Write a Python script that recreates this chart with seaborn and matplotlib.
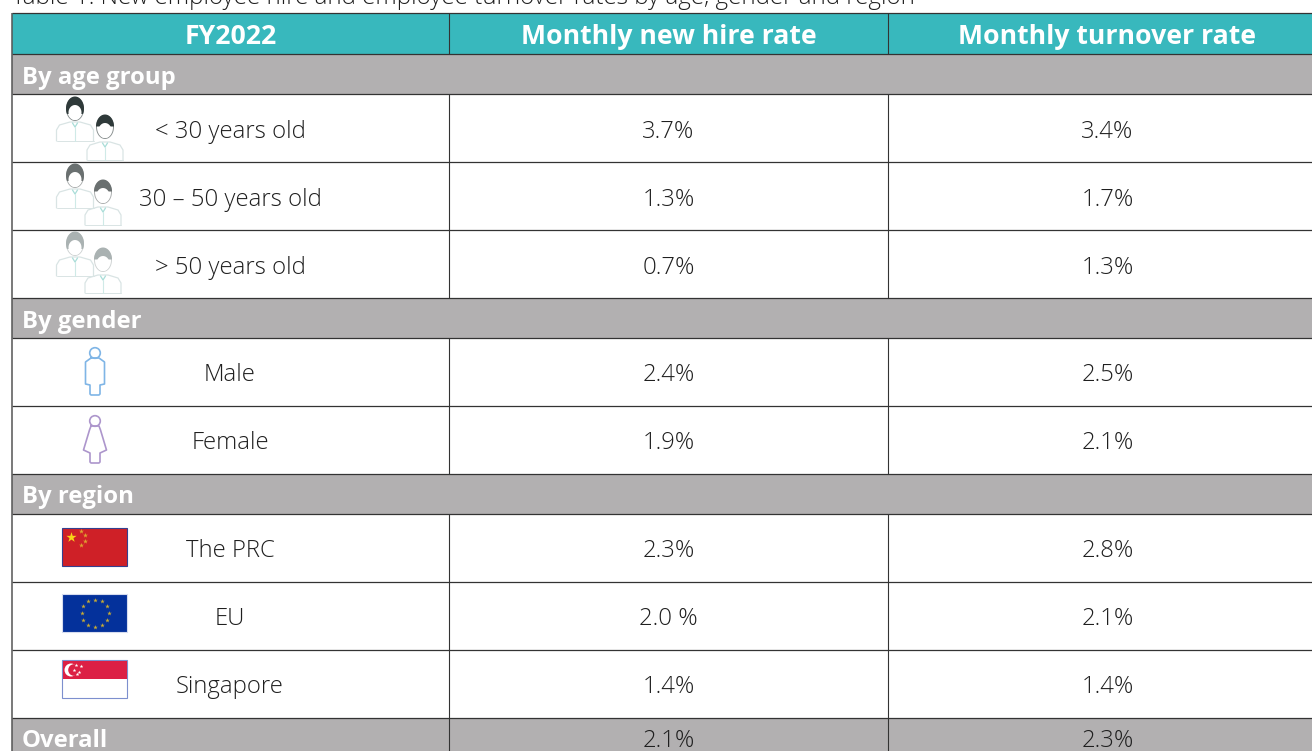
import numpy as np
import matplotlib
matplotlib.use("Agg")
import matplotlib.pyplot as plt
from matplotlib.colors import ListedColormap
from matplotlib.patches import Circle, Rectangle
import seaborn as sns

# table content
title = "Table 1: New employee hire and employee turnover rates by age, gender and region"
header = ["FY2022", "Monthly new hire rate", "Monthly turnover rate"]
age_labels = ["< 30 years old", "30 – 50 years old", "> 50 years old"]
age_hire = ["3.7%", "1.3%", "0.7%"]
age_turnover = ["3.4%", "1.7%", "1.3%"]
gender_labels = ["Male", "Female"]
gender_hire = ["2.4%", "1.9%"]
gender_turnover = ["2.5%", "2.1%"]
region_labels = ["The PRC", "EU", "Singapore"]
region_hire = ["2.3%", "2.0 %", "1.4%"]
region_turnover = ["2.8%", "2.1%", "1.4%"]
overall_hire = "2.1%"
overall_turnover = "2.3%"

# layout in pixels of the output picture
W, H = 1312, 751
col_edges = [12, 449, 888, 1312]
row_edges = [13, 54, 94, 162, 230, 298, 338, 406, 474, 514, 582, 650, 718, 751]
# 0 white, 1 teal, 2 grey
row_kinds = [1, 2, 0, 0, 0, 2, 0, 0, 2, 0, 0, 0, 2]
LINE = "#333333"
TEXT = "#1f1f1f"
TEAL = "#38b8bd"
GREY = "#b2b0b1"
FONT = "Open Sans"
BODY_SIZE = 17.2

sns.set_theme(style="white")
plt.rcParams["font.family"] = [FONT, "DejaVu Sans"]

# the cell backgrounds are one heatmap with one cell per pixel
bands = np.zeros((H, W), dtype=int)
for kind, top, bottom in zip(row_kinds, row_edges[:-1], row_edges[1:]):
    bands[top:bottom, col_edges[0]:] = kind

fig = plt.figure(figsize=(W / 100, H / 100), dpi=100)
ax = fig.add_axes([0, 0, 1, 1])
sns.heatmap(bands, ax=ax, cmap=ListedColormap(["white", TEAL, GREY]), vmin=0, vmax=2,
            cbar=False, xticklabels=False, yticklabels=False)
ax.set_xlim(0, W)
ax.set_ylim(H, 0)
ax.set_axis_off()


def person(cx, top, color, female=False):
    """Outline of a standing figure, used for the gender rows."""
    ax.add_patch(Circle((cx, top + 6), 5.3, fill=False, ec=color, lw=1.2, zorder=4))
    if female:
        xs = [cx - 4, cx + 4, cx + 5.5, cx + 11.5, cx + 5, cx + 5, cx + 4, cx - 4, cx - 5, cx - 5, cx - 11.5, cx - 5.5, cx - 4]
        ys = [top + 11, top + 11, top + 15, top + 35, top + 38, top + 47, top + 48, top + 48, top + 47, top + 38, top + 35, top + 15, top + 11]
    else:
        xs = [cx - 4, cx + 4, cx + 9.5, cx + 9.5, cx + 5, cx + 5, cx + 4, cx - 4, cx - 5, cx - 5, cx - 9.5, cx - 9.5, cx - 4]
        ys = [top + 11, top + 11, top + 15, top + 37, top + 38, top + 47, top + 48, top + 48, top + 47, top + 38, top + 37, top + 15, top + 11]
    ax.plot(xs, ys, color=color, lw=1.2, zorder=4)


def bust(cx, cy, hair, half_w, shoulder_y, base_y, long_hair=False):
    """One head and shoulders from the age icons; cy is the head centre."""
    outline = "#d9e4e4"
    t = np.linspace(0, 2 * np.pi, 60)
    ax.plot(cx + 8.5 * np.cos(t), cy + 11.5 * np.sin(t), color=hair, lw=0.7, alpha=0.55, zorder=5)
    # hair is the upper cap of the head, longer for the woman
    t = np.linspace(np.pi * (0.85 if long_hair else 1.0), np.pi * (2.15 if long_hair else 2.0), 40)
    ax.fill(cx + 9 * np.cos(t), cy + 12 * np.sin(t) - 0.5, color=hair, lw=0, zorder=5)
    face_t = np.linspace(0, 2 * np.pi, 40)
    ax.fill(cx + 6.5 * np.cos(face_t), cy + 3.5 + 7.5 * np.sin(face_t), color="white", lw=0, zorder=5)
    xs = [cx - half_w, cx - half_w, cx - half_w + 3, cx - 5, cx + 5, cx + half_w - 3, cx + half_w, cx + half_w]
    ys = [base_y, shoulder_y + 8, shoulder_y + 3, shoulder_y, shoulder_y, shoulder_y + 3, shoulder_y + 8, base_y]
    ax.plot(xs, ys, color=outline, lw=0.9, zorder=4)
    ax.plot([cx - half_w, cx + half_w], [base_y, base_y], color=outline, lw=0.7, zorder=4)
    ax.plot([cx - 2.5, cx, cx + 2.5], [shoulder_y + 1, shoulder_y + 5, shoulder_y + 1], color="#a9ddd8", lw=0.9, zorder=4)
    ax.plot([cx, cx], [shoulder_y + 5, base_y], color="#cfeae7", lw=0.8, zorder=4)


def age_icon(woman_shift, man_shift, hair, man_dx):
    bust(75, 109 + woman_shift, hair, 18.5, 122 + woman_shift, 141 + woman_shift, long_hair=True)
    bust(105 - man_dx, 127 + man_shift, hair, 18, 142 + man_shift, 160 + man_shift)


def flag_frame(top, face, edge="#35408f"):
    ax.add_patch(Rectangle((62, top), 65, 38, fc=face, ec=edge, lw=0.8, zorder=4))


# grid lines
ax.hlines(row_edges[:-1], col_edges[0], W, color=LINE, lw=0.9, zorder=3)
ax.vlines(col_edges[0], row_edges[0], H, color="#555555", lw=1.1, zorder=3)
for k, top, bottom in zip(row_kinds, row_edges[:-1], row_edges[1:]):
    if k != 2:
        ax.vlines(col_edges[1:3], top, bottom, color=LINE, lw=0.8, zorder=3)
ax.vlines(col_edges[1:3], row_edges[-2], H, color=LINE, lw=0.8, zorder=3)

# caption, cut by the top of the page as in the source
ax.text(12, -2.5, title, fontsize=17.4, color=TEXT, fontweight="light", va="center", ha="left",
        clip_on=False)

centers = [(a + b) / 2 for a, b in zip(col_edges[:-1], col_edges[1:])]
centers[2] = 1107.5
for cx, label in zip(centers, header):
    ax.text(cx, 37, label, color="white", fontsize=19.2, fontweight="bold", ha="center", va="center", zorder=6)

for y, label in zip([78, 322, 497, 741], ["By age group", "By gender", "By region", "Overall"]):
    ax.text(22, y, label, color="white", fontsize=17.2, fontweight="bold", ha="left", va="center", zorder=6)


def data_rows(first_row, labels, hire, turnover, nudge=3):
    for i, (label, a, b) in enumerate(zip(labels, hire, turnover)):
        y = (row_edges[first_row + i] + row_edges[first_row + i + 1]) / 2 + nudge
        for cx, s in zip([230, centers[1], centers[2]], [label, a, b]):
            ax.text(cx, y, s, ha="center", va="center", fontsize=BODY_SIZE, color=TEXT,
                    fontweight="light", zorder=6)


data_rows(2, age_labels, age_hire, age_turnover, nudge=4)
data_rows(6, gender_labels, gender_hire, gender_turnover)
data_rows(9, region_labels, region_hire, region_turnover)
for cx, s in zip(centers[1:], [overall_hire, overall_turnover]):
    ax.text(cx, 741, s, ha="center", va="center", fontsize=BODY_SIZE, color=TEXT, fontweight="light", zorder=6)

# icons for the age rows
age_icon(0, 0, "#2f3a3a", 0)
age_icon(67, 65, "#6a7070", 2)
age_icon(135, 133, "#aab2b2", 2)

# icons for the gender rows
person(95, 347, "#7fb5e6")
person(95, 415, "#ad96cc", female=True)

# flags
flag_frame(528, "#cf2027")
ax.scatter([71], [537], marker="*", s=60, color="#f7d417", lw=0, zorder=5)
ax.scatter([81, 85, 85, 81], [531, 535, 541, 545], marker="*", s=14, color="#e0a030", lw=0, zorder=5)

flag_frame(594, "#04319b", edge="#d6dcef")
angles = np.deg2rad(np.arange(0, 360, 30))
ax.scatter(95 + 13.5 * np.cos(angles), 613 + 13.5 * np.sin(angles), marker="*", s=12,
           color="#c9ac33", lw=0, zorder=5)

flag_frame(660, "white", edge="#7d8fce")
ax.add_patch(Rectangle((62.5, 660.5), 64, 18.5, fc="#dc2045", ec="none", zorder=5))
ax.add_patch(Circle((71, 670), 6.5, fc="white", ec="none", zorder=6))
ax.add_patch(Circle((74, 670), 5.8, fc="#dc2045", ec="none", zorder=6))
ax.scatter([76, 81, 74, 79, 77], [665, 666, 670, 672, 674], marker="*", s=8, color="white", lw=0, zorder=6)

fig.savefig("out.png", dpi=100)
plt.close(fig)
